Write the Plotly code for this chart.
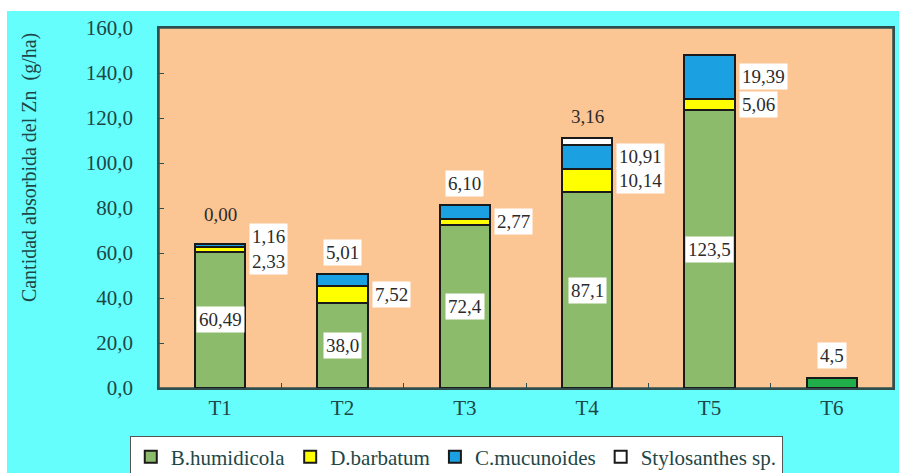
import plotly.graph_objects as go

categories = ["T1", "T2", "T3", "T4", "T5", "T6"]
b_humidicola = [60.49, 38.0, 72.4, 87.1, 123.5, 4.5]
d_barbatum = [2.33, 7.52, 2.77, 10.14, 5.06, 0.0]
c_mucunoides = [1.16, 5.01, 6.10, 10.91, 19.39, 0.0]
stylosanthes = [0.0, 0.0, 0.0, 3.16, 0.0, 0.0]

b_labels = ["60,49", "38,0", "72,4", "87,1", "123,5", "4,5"]
d_labels = ["1,16<br>2,33", "7,52", "2,77", "10,14", "5,06", None]
c_labels = [None, "5,01", "6,10", "10,91", "19,39", None]
s_labels = ["0,00", None, None, "3,16", None, None]

# where each label sits relative to its bar
b_pos = ["mid", "mid", "mid", "mid", "mid", "top"]
c_pos = [None, "top", "top", "right", "right", None]

SERIF = "'Liberation Serif', 'Times New Roman', 'DejaVu Serif', serif"
TEXT = "#2b2b2b"
AXIS_TEXT = "#1d4747"

b_colors = ["#8cbb6c"] * 5 + ["#21ad4a"]

fig = go.Figure()
series = [
    ("B.humidicola", b_humidicola, b_colors),
    ("D.barbatum", d_barbatum, "#ffff00"),
    ("C.mucunoides", c_mucunoides, "#1ba1e2"),
    ("Stylosanthes sp.", stylosanthes, "#ffffff"),
]
for name, vals, col in series:
    fig.add_trace(
        go.Bar(
            x=categories,
            y=vals,
            name=name,
            marker=dict(color=col, line=dict(color="#1a1a1a", width=2)),
            width=0.41,
        )
    )

annotations = []


def label(x, y, text, xanchor="center", xshift=0, yshift=0, bg="white"):
    annotations.append(
        dict(
            x=x,
            y=y,
            xref="x",
            yref="y",
            text=text,
            showarrow=False,
            xanchor=xanchor,
            yanchor="middle",
            xshift=xshift,
            yshift=yshift,
            bgcolor=bg,
            borderpad=2,
            font=dict(family=SERIF, size=19, color=TEXT),
        )
    )


for i, cat in enumerate(categories):
    b = b_humidicola[i]
    d = d_barbatum[i]
    c = c_mucunoides[i]
    s = stylosanthes[i]
    top = b + d + c + s
    if b_pos[i] == "mid":
        label(cat, b / 2, b_labels[i])
    else:
        label(cat, b, b_labels[i], yshift=22)
    if d_labels[i]:
        label(cat, b + d / 2, d_labels[i], xanchor="left", xshift=29)
    if c_labels[i]:
        if c_pos[i] == "top":
            label(cat, top, c_labels[i], yshift=22)
        else:
            label(cat, b + d + c / 2, c_labels[i], xanchor="left", xshift=29)
    if s_labels[i]:
        label(cat, top, s_labels[i], yshift=30 if i == 0 else 21, bg=None)

# y axis title, placed by hand (it sits above the axis centre in the original)
annotations.append(
    dict(
        text="Cantidad absorbida del Zn\u00a0 (g/ha)",
        xref="paper",
        yref="paper",
        x=-0.177,
        y=0.611,
        xanchor="center",
        yanchor="middle",
        textangle=-90,
        showarrow=False,
        font=dict(family=SERIF, size=20, color=AXIS_TEXT),
    )
)

# background: white strip at top/left, cyan canvas, peach plot area
shapes = [
    dict(type="rect", xref="paper", yref="paper", x0=-0.2071, x1=1.01,
         y0=-0.3, y1=1.047, fillcolor="#66fdfd", line=dict(width=0), layer="below"),
    dict(type="rect", xref="paper", yref="paper", x0=0, x1=1, y0=0, y1=1,
         fillcolor="#fcc594", line=dict(color="#2f4f4f", width=1.5), layer="below"),
]

fig.update_layout(
    width=899,
    height=473,
    margin=dict(l=159, r=6, t=28, b=85, autoexpand=False),
    paper_bgcolor="white",
    plot_bgcolor="#fcc594",
    barmode="stack",
    separators=", ",
    shapes=shapes,
    annotations=annotations,
    font=dict(family=SERIF, color=AXIS_TEXT),
    legend=dict(
        orientation="h",
        x=0.405,
        xanchor="center",
        y=-0.132,
        yanchor="top",
        bgcolor="white",
        bordercolor="#555555",
        borderwidth=1,
        font=dict(family=SERIF, size=21, color=AXIS_TEXT),
        traceorder="normal",
        itemwidth=30,
    ),
    yaxis=dict(
        range=[0, 160],
        dtick=20,
        tickformat=".1f",
        showgrid=False,
        zeroline=False,
        ticks="inside",
        ticklen=5,
        tickcolor="#2f4f4f",
        showline=True,
        linecolor="#2f4f4f",
        linewidth=1.5,
        mirror=True,
        tickfont=dict(family=SERIF, size=21, color=AXIS_TEXT),
        ticklabelstandoff=20,
    ),
    xaxis=dict(
        showgrid=False,
        ticks="inside",
        tickson="boundaries",
        ticklen=5,
        tickcolor="#2f4f4f",
        showline=True,
        linecolor="#2f4f4f",
        linewidth=1.5,
        mirror=True,
        tickfont=dict(family=SERIF, size=21, color=AXIS_TEXT),
    ),
)

fig.write_html(
    "out.html",
    config={"displayModeBar": False},
    post_script="document.body.style.margin='0';",
)
